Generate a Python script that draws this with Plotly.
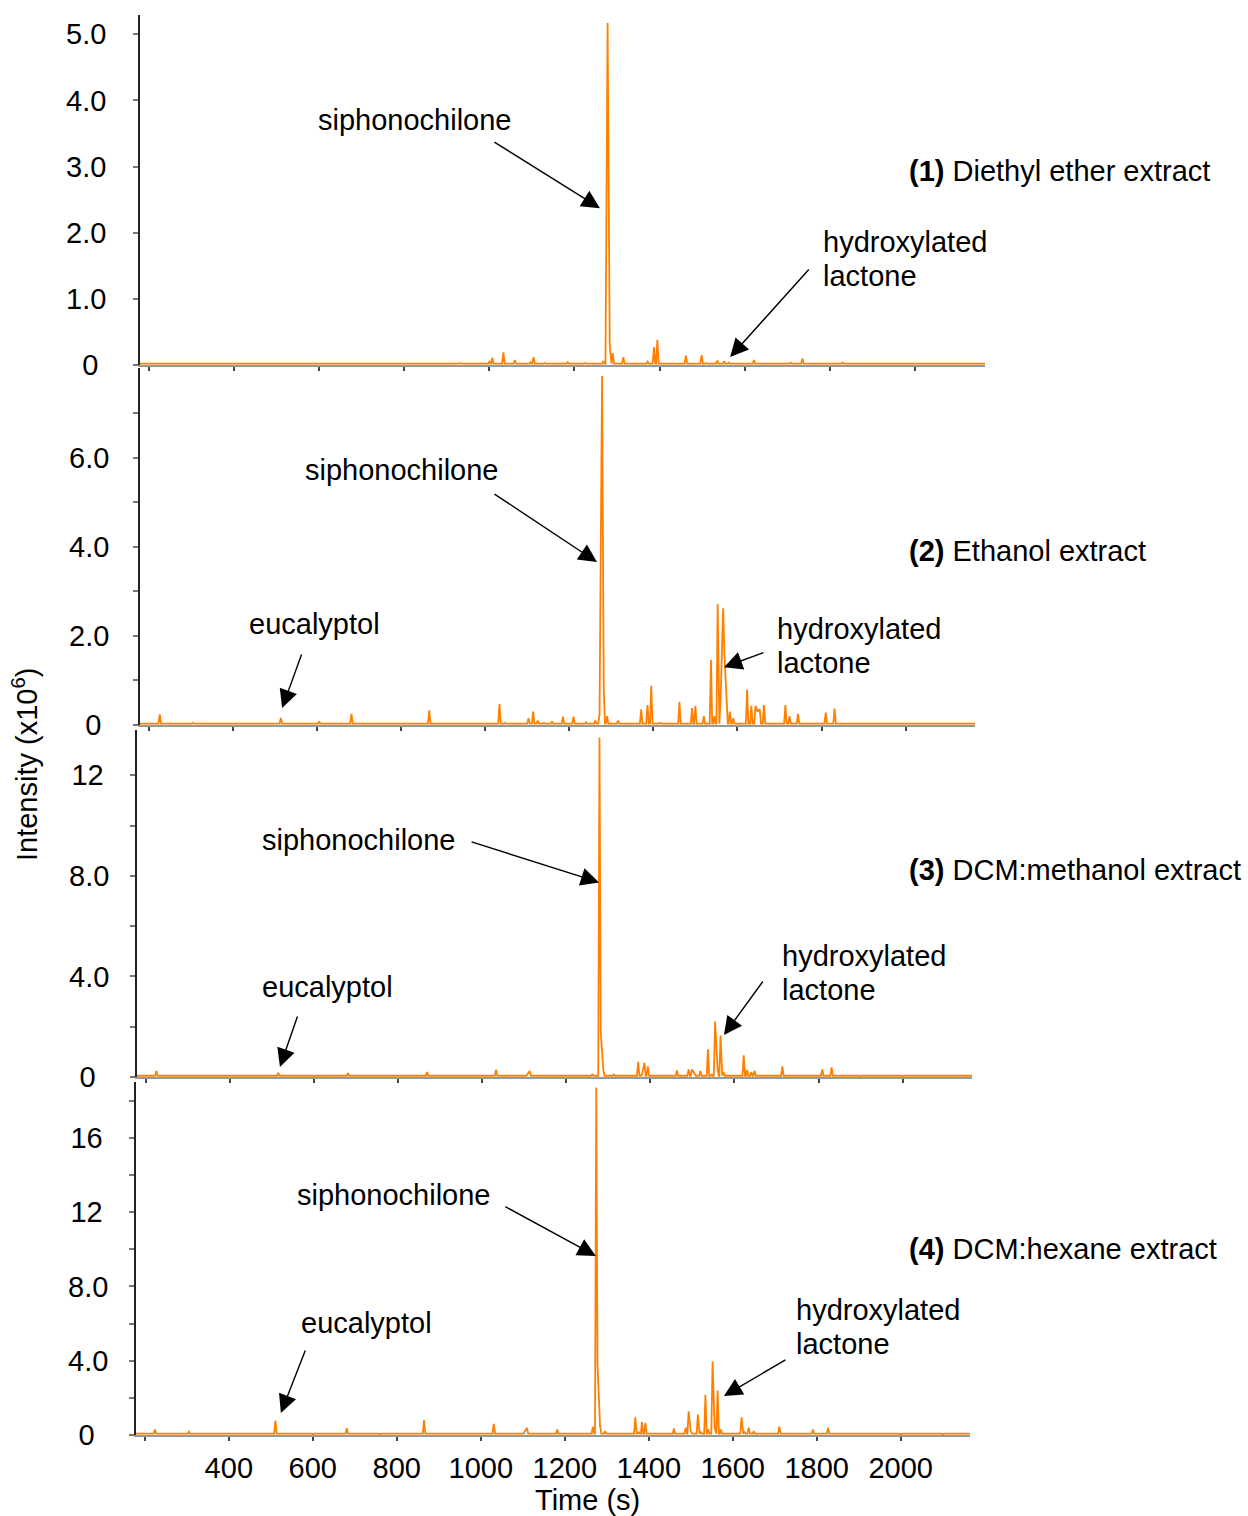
import plotly.graph_objects as go

FONT = "Liberation Sans, Arial, sans-serif"
ORANGE = "#ff8000"
W, H = 1248, 1516
FS = 29

# ---- shared time axis -------------------------------------------------------
time_range = [179, 2165]
time_ticks = [200, 400, 600, 800, 1000, 1200, 1400, 1600, 1800, 2000]
time_tick_text = ["", "400", "600", "800", "1000", "1200", "1400", "1600", "1800", "2000"]

# ---- (1) Diethyl ether extract: peak retention times (s) and apex intensities (x10^6)
ether_time = [226, 312, 408, 682, 868, 932, 1000, 1007, 1033, 1060, 1097, 1104, 1130,
              1150, 1184, 1225, 1268, 1276, 1278, 1283, 1290, 1315, 1372, 1387, 1395,
              1462, 1499, 1510, 1536, 1552, 1563, 1622, 1708, 1736, 1815, 1830]
ether_int = [0.02, 0.015, 0.015, 0.02, 0.02, 0.03, 0.05, 0.11, 0.19, 0.075, 0.04, 0.12,
             0.03, 0.025, 0.04, 0.03, 0.06, 4.2, 5.17, 0.3, 0.18, 0.12, 0.05, 0.27, 0.38,
             0.14, 0.15, 0.03, 0.065, 0.06, 0.035, 0.075, 0.035, 0.10, 0.02, 0.035]
ether_floor = 0.02

# ---- (2) Ethanol extract
ethanol_time = [226, 305, 360, 420, 514, 560, 605, 682, 760, 867, 890, 950, 1034, 1047,
                1070, 1103, 1114, 1125, 1140, 1159, 1185, 1210, 1240, 1262, 1272, 1278,
                1282, 1290, 1316, 1371, 1386, 1395, 1415, 1462, 1492, 1500, 1520, 1537,
                1545, 1553, 1560, 1566, 1569, 1574, 1582, 1590, 1623, 1633, 1643, 1648,
                1653, 1663, 1714, 1724, 1744, 1810, 1831, 1880, 1950, 2050, 2120]
ethanol_int = [0.24, 0.05, 0.03, 0.03, 0.16, 0.03, 0.08, 0.25, 0.03, 0.33, 0.03, 0.04,
               0.47, 0.05, 0.04, 0.15, 0.30, 0.10, 0.05, 0.08, 0.19, 0.19, 0.06, 0.10,
               0.24, 7.84, 0.79, 0.20, 0.10, 0.35, 0.45, 0.88, 0.05, 0.52, 0.38, 0.43,
               0.20, 1.46, 0.20, 2.72, 0.60, 2.62, 1.60, 0.50, 0.30, 0.15, 0.79, 0.43,
               0.43, 0.30, 0.36, 0.45, 0.45, 0.20, 0.25, 0.28, 0.37, 0.03, 0.02, 0.02, 0.02]
ethanol_floor = 0.03

# ---- (3) DCM:methanol extract
methanol_time = [225, 300, 420, 515, 600, 681, 869, 960, 1033, 1060, 1108, 1113, 1150,
                 1200, 1262, 1279, 1282, 1288, 1313, 1371, 1380, 1386, 1394, 1420, 1463,
                 1491, 1499, 1505, 1519, 1537, 1546, 1554, 1560, 1567, 1574, 1622, 1630,
                 1640, 1648, 1714, 1809, 1831, 1900, 2000]
methanol_int = [0.24, 0.05, 0.03, 0.17, 0.03, 0.15, 0.20, 0.04, 0.29, 0.05, 0.12, 0.24,
                0.05, 0.04, 0.10, 13.5, 1.8, 0.30, 0.10, 0.60, 0.10, 0.56, 0.42, 0.05,
                0.26, 0.30, 0.30, 0.15, 0.24, 1.10, 0.10, 2.21, 0.30, 1.65, 0.20, 0.86,
                0.28, 0.20, 0.25, 0.42, 0.30, 0.38, 0.02, 0.02]
methanol_floor = 0.05

# ---- (4) DCM:hexane extract
hexane_time = [224, 305, 320, 420, 460, 511, 600, 681, 760, 865, 920, 970, 1031, 1045,
               1072, 1105, 1110, 1125, 1150, 1182, 1200, 1240, 1267, 1275, 1278, 1284,
               1296, 1368, 1376, 1384, 1392, 1403, 1411, 1460, 1488, 1495, 1500, 1517,
               1524, 1535, 1542, 1552, 1557, 1564, 1572, 1621, 1628, 1638, 1650, 1711,
               1791, 1827, 1900, 2000, 2100]
hexane_int = [0.30, 0.18, 0.06, 0.05, 0.06, 0.77, 0.04, 0.36, 0.04, 0.80, 0.06, 0.06,
              0.60, 0.08, 0.05, 0.20, 0.38, 0.10, 0.06, 0.30, 0.08, 0.06, 0.45, 18.7,
              3.8, 0.50, 0.20, 0.95, 0.15, 0.70, 0.65, 0.10, 0.10, 0.35, 0.40, 1.28,
              0.20, 1.10, 0.15, 2.17, 0.30, 3.95, 0.40, 2.39, 0.30, 0.95, 0.15, 0.40,
              0.20, 0.45, 0.30, 0.40, 0.03, 0.02, 0.02]
hexane_floor = 0.07

# ---- intensity axes (x10^6)
ether_range = [0, 5.29]
ether_ticks = [0, 1, 2, 3, 4, 5]
ether_tick_text = ["0\u00a0", "1.0", "2.0", "3.0", "4.0", "5.0"]

ethanol_range = [0, 8.02]
ethanol_ticks = [0, 1, 2, 3, 4, 5, 6, 7]
ethanol_tick_text = ["0\u00a0", "", "2.0", "", "4.0", "", "6.0", ""]

methanol_range = [0, 13.8]
methanol_ticks = [0, 2, 4, 6, 8, 10, 12]
methanol_tick_text = ["0\u00a0\u2009", "", "4.0", "", "8.0", "", "12\u2009"]

hexane_range = [0, 19.0]
hexane_ticks = [0, 2, 4, 6, 8, 10, 12, 14, 16, 18]
hexane_tick_text = ["0\u00a0\u2009", "", "4.0", "", "8.0", "", "12\u2009", "", "16\u2009", ""]


def chromatogram(times, heights, floor, foot=3.0):
    """Join the listed apexes into one trace, dropping to the floor between separated peaks."""
    pairs = sorted(zip(times, heights))
    xs, ys = [time_range[0]], [floor]
    for i, (t, h) in enumerate(pairs):
        prev_t = pairs[i - 1][0] if i > 0 else -1e9
        next_t = pairs[i + 1][0] if i < len(pairs) - 1 else 1e9
        if t - prev_t > 2 * foot:
            xs.append(t - foot); ys.append(floor)
        xs.append(t); ys.append(h)
        if next_t - t > 2 * foot:
            xs.append(t + foot); ys.append(floor)
    xs.append(time_range[1]); ys.append(floor)
    return xs, ys


# panel frames in pixels: (left, right, top, bottom) and tick-label gap
panels = [
    dict(t=ether_time, v=ether_int, floor=ether_floor, yr=ether_range, yt=ether_ticks,
         ytt=ether_tick_text, box=(140, 985, 15, 365), gap=21),
    dict(t=ethanol_time, v=ethanol_int, floor=ethanol_floor, yr=ethanol_range, yt=ethanol_ticks,
         ytt=ethanol_tick_text, box=(140, 975, 368, 725), gap=18),
    dict(t=methanol_time, v=methanol_int, floor=methanol_floor, yr=methanol_range, yt=methanol_ticks,
         ytt=methanol_tick_text, box=(137, 972, 730, 1077), gap=15),
    dict(t=hexane_time, v=hexane_int, floor=hexane_floor, yr=hexane_range, yt=hexane_ticks,
         ytt=hexane_tick_text, box=(136, 970, 1082, 1435), gap=15),
]

fig = go.Figure()
layout = dict(
    width=W, height=H, autosize=False, margin=dict(l=0, r=0, t=0, b=0, autoexpand=False),
    paper_bgcolor="white", plot_bgcolor="white", showlegend=False,
    font=dict(family=FONT, size=FS, color="black"),
)

for i, p in enumerate(panels, start=1):
    xs, ys = chromatogram(p["t"], p["v"], p["floor"])
    sfx = "" if i == 1 else str(i)
    fig.add_trace(go.Scatter(x=xs, y=ys, mode="lines", xaxis="x" + sfx, yaxis="y" + sfx,
                             line=dict(color=ORANGE, width=1.8), hoverinfo="skip"))
    l, r, t, b = p["box"]
    layout["xaxis" + sfx] = dict(
        domain=[l / W, r / W], range=time_range, anchor="y" + sfx,
        tickvals=time_ticks, ticktext=time_tick_text, showticklabels=(i == 4),
        ticks="outside", ticklen=4, tickwidth=1.5, tickcolor="#444",
        showline=True, linecolor="#999999", linewidth=2, showgrid=False, zeroline=False,
        ticklabelstandoff=2, tickfont=dict(size=FS), automargin=False,
    )
    layout["yaxis" + sfx] = dict(
        domain=[1 - b / H, 1 - t / H], range=p["yr"], anchor="x" + sfx,
        tickvals=p["yt"], ticktext=p["ytt"],
        ticks="outside", ticklen=5, tickwidth=1.5, tickcolor="#777",
        showline=True, linecolor="#222", linewidth=1.5, showgrid=False, zeroline=False,
        ticklabelstandoff=p["gap"], tickfont=dict(size=FS), automargin=False,
    )

fig.update_layout(**layout)

ann = []


def arrow(panel, x, y, ax, ay):
    sfx = "" if panel == 1 else str(panel)
    ann.append(dict(xref="x" + sfx, yref="y" + sfx, x=x, y=y, ax=ax, ay=ay, text="",
                    showarrow=True, arrowhead=2, arrowsize=2.6, arrowwidth=1.4,
                    arrowcolor="black", standoff=0))


def label(panel, x, y, text, xanchor="center"):
    sfx = "" if panel == 1 else str(panel)
    ann.append(dict(xref="x" + sfx, yref="y" + sfx, x=x, y=y, text=text, showarrow=False,
                    xanchor=xanchor, yanchor="middle", align="left",
                    font=dict(family=FONT, size=FS, color="black")))


# (1) Diethyl ether
label(1, 823, 3.70, "siphonochilone")
arrow(1, 1260, 2.37, -107, -67)
label(1, 1779, 1.86, "hydroxylated", xanchor="left")
label(1, 1779, 1.34, "lactone", xanchor="left")
arrow(1, 1566, 0.12, 80, -89)
label(1, 1982, 2.93, "<b>(1)</b> Diethyl ether extract", xanchor="left")

# (2) Ethanol
label(2, 800, 5.73, "siphonochilone")
arrow(2, 1266, 3.66, -104, -69)
label(2, 595, 2.27, "eucalyptol")
arrow(2, 517, 0.38, 20, -55)
label(2, 1689, 2.16, "hydroxylated", xanchor="left")
label(2, 1689, 1.39, "lactone", xanchor="left")
arrow(2, 1568, 1.30, 41, -15)
label(2, 2003, 3.91, "<b>(2)</b> Ethanol extract", xanchor="left")

# (3) DCM:methanol
label(3, 707, 9.44, "siphonochilone")
arrow(3, 1278, 7.74, -129, -41)
label(3, 631, 3.57, "eucalyptol")
arrow(3, 519, 0.40, 18, -52)
label(3, 1708, 4.80, "hydroxylated", xanchor="left")
label(3, 1708, 3.45, "lactone", xanchor="left")
arrow(3, 1575, 1.67, 40, -55)
label(3, 2011, 8.25, "<b>(3)</b> DCM:methanol extract", xanchor="left")

# (4) DCM:hexane
label(4, 793, 12.93, "siphonochilone")
arrow(4, 1274, 9.64, -92, -50)
label(4, 729, 6.03, "eucalyptol")
arrow(4, 524, 1.19, 25, -64)
label(4, 1746, 6.73, "hydroxylated", xanchor="left")
label(4, 1746, 4.90, "lactone", xanchor="left")
arrow(4, 1579, 2.10, 63, -37)
label(4, 2015, 10.02, "<b>(4)</b> DCM:hexane extract", xanchor="left")

# axis titles
ann.append(dict(xref="paper", yref="paper", x=25 / W, y=1 - 765 / H, showarrow=False,
                text="Intensity (x10<sup>6</sup>)", textangle=-90,
                xanchor="center", yanchor="middle", font=dict(family=FONT, size=FS)))
ann.append(dict(xref="paper", yref="paper", x=587 / W, y=1 - 1500 / H, showarrow=False,
                text="Time (s)", xanchor="center", yanchor="middle",
                font=dict(family=FONT, size=FS)))

fig.update_layout(annotations=ann)
fig.write_html("out.html", config={"responsive": False})
